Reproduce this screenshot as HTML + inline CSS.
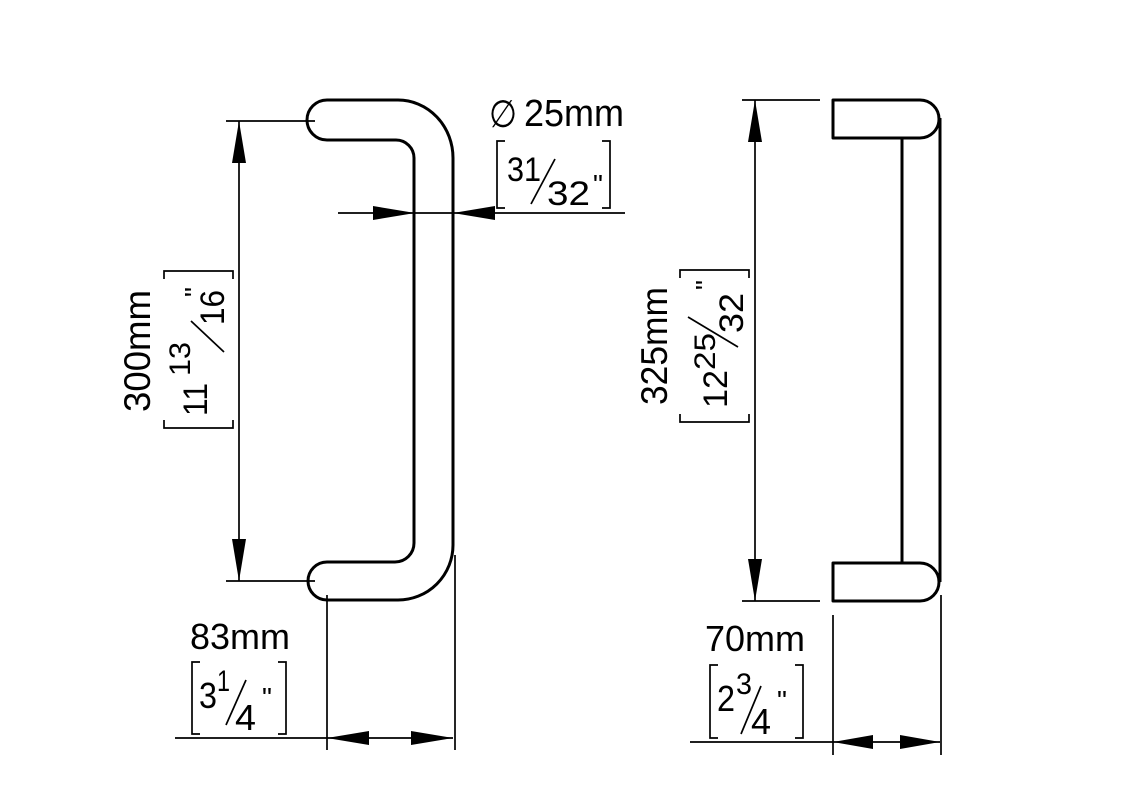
<!DOCTYPE html>
<html><head><meta charset="utf-8"><style>
html,body{margin:0;padding:0;background:#fff;}
svg{display:block;}
text{font-family:"Liberation Sans",sans-serif;fill:#000;}
</style></head><body>
<svg width="1130" height="800" viewBox="0 0 1130 800" xmlns="http://www.w3.org/2000/svg">
<g fill="none" stroke="#000" stroke-width="3" stroke-linejoin="round">
  <path d="M327,100 L398,100 A55,58 0 0 1 453,158 L453,545 A55,55 0 0 1 398,600 L327,600 A19,19 0 0 1 327,562 L395,562 A19,19 0 0 0 414,543 L414,158 A18,18 0 0 0 396,140 L327,140 A20,20 0 0 1 327,100 Z"/>
  <path d="M833,100 L920,100 A19,19 0 0 1 920,138 L833,138 Z"/>
  <path d="M833,563 L920,563 A19,19 0 0 1 920,601 L833,601 Z"/>
  <line x1="902" y1="138" x2="902" y2="563"/>
  <line x1="940" y1="118" x2="940" y2="582"/>
</g>
<g fill="none" stroke="#000" stroke-width="1.7">
  <line x1="226" y1="121" x2="315" y2="121"/>
  <line x1="226" y1="581" x2="315" y2="581"/>
  <line x1="239" y1="121" x2="239" y2="581"/>
  <line x1="338" y1="213" x2="625" y2="213"/>
  <line x1="175" y1="738" x2="453" y2="738"/>
  <line x1="327" y1="595" x2="327" y2="750"/>
  <line x1="455" y1="555" x2="455" y2="750"/>
  <line x1="742" y1="100" x2="820" y2="100"/>
  <line x1="742" y1="601" x2="820" y2="601"/>
  <line x1="755" y1="100" x2="755" y2="601"/>
  <line x1="690" y1="742" x2="940" y2="742"/>
  <line x1="833" y1="615" x2="833" y2="755"/>
  <line x1="941" y1="595" x2="941" y2="755"/>
  <path d="M505,141 L497,141 L497,208 L505,208"/>
  <path d="M602,141 L610,141 L610,208 L602,208"/>
  <path d="M200,662 L192,662 L192,734 L200,734"/>
  <path d="M278,662 L286,662 L286,734 L278,734"/>
  <path d="M718,665 L710,665 L710,738 L718,738"/>
  <path d="M795,665 L803,665 L803,738 L795,738"/>
  <path d="M164,279 L164,271 L233,271 L233,279"/>
  <path d="M164,420 L164,428 L233,428 L233,420"/>
  <path d="M680,278 L680,270 L749,270 L749,278"/>
  <path d="M680,414 L680,422 L749,422 L749,414"/>
  <line x1="531" y1="204" x2="555" y2="159"/>
  <line x1="226" y1="725" x2="246" y2="680"/>
  <line x1="741" y1="734" x2="761" y2="686"/>
  <line x1="191" y1="321" x2="224" y2="352"/>
  <line x1="688" y1="317" x2="738" y2="347"/>
</g>
<g fill="#000" stroke="none">
  <polygon points="239,121 232,163 246,163"/>
  <polygon points="239,581 232,539 246,539"/>
  <polygon points="415,213 373,206 373,220"/>
  <polygon points="453,213 495,206 495,220"/>
  <polygon points="327,738 369,731 369,745"/>
  <polygon points="453,738 411,731 411,745"/>
  <polygon points="755,100 748,142 762,142"/>
  <polygon points="755,601 748,559 762,559"/>
  <polygon points="833,742 873,735 873,749"/>
  <polygon points="940,742 900,735 900,749"/>
</g>
<text x="489" y="127" font-size="38" textLength="28" lengthAdjust="spacingAndGlyphs">&#8709;</text>
<text x="524" y="126" font-size="38" textLength="100" lengthAdjust="spacingAndGlyphs">25mm</text>
<text x="507" y="181" font-size="34" textLength="34" lengthAdjust="spacingAndGlyphs">31</text>
<text x="547" y="205" font-size="34" textLength="43" lengthAdjust="spacingAndGlyphs">32</text>
<text x="593" y="194" font-size="28">"</text>

<text x="190" y="649" font-size="36" textLength="100" lengthAdjust="spacingAndGlyphs">83mm</text>
<text x="199" y="708" font-size="36" textLength="18" lengthAdjust="spacingAndGlyphs">3</text>
<text x="217" y="691" font-size="30" textLength="13" lengthAdjust="spacingAndGlyphs">1</text>
<text x="235" y="730" font-size="36" textLength="21" lengthAdjust="spacingAndGlyphs">4</text>
<text x="262" y="707" font-size="28">"</text>

<text x="705" y="651" font-size="36" textLength="100" lengthAdjust="spacingAndGlyphs">70mm</text>
<text x="717" y="711" font-size="36" textLength="18" lengthAdjust="spacingAndGlyphs">2</text>
<text x="736" y="694" font-size="30" textLength="16" lengthAdjust="spacingAndGlyphs">3</text>
<text x="751" y="734" font-size="36" textLength="20" lengthAdjust="spacingAndGlyphs">4</text>
<text x="777" y="710" font-size="28">"</text>

<g transform="translate(232,428) rotate(-90)">
  <text x="77" y="-82" font-size="37" text-anchor="middle" textLength="122" lengthAdjust="spacingAndGlyphs">300mm</text>
  <text x="12" y="-25" font-size="34" textLength="33" lengthAdjust="spacingAndGlyphs">11</text>
  <text x="52" y="-42" font-size="30" textLength="34" lengthAdjust="spacingAndGlyphs">13</text>
  <text x="103" y="-8" font-size="34" textLength="35" lengthAdjust="spacingAndGlyphs">16</text>
  <text x="131" y="-28" font-size="28">"</text>
</g>
<g transform="translate(749,422) rotate(-90)">
  <text x="76" y="-82" font-size="37" text-anchor="middle" textLength="118" lengthAdjust="spacingAndGlyphs">325mm</text>
  <text x="14" y="-22" font-size="34" textLength="38" lengthAdjust="spacingAndGlyphs">12</text>
  <text x="52" y="-34" font-size="30" textLength="37" lengthAdjust="spacingAndGlyphs">25</text>
  <text x="89" y="-6" font-size="34" textLength="40" lengthAdjust="spacingAndGlyphs">32</text>
  <text x="132" y="-34" font-size="28">"</text>
</g>
</svg>
</body></html>
